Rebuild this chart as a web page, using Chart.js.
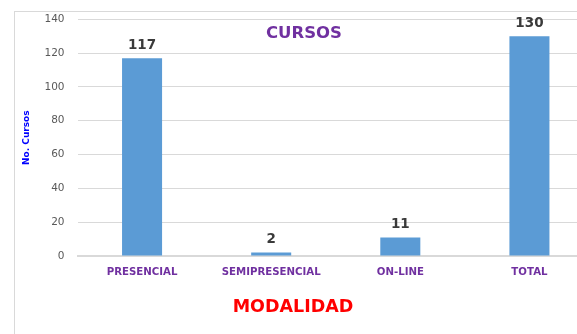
<!DOCTYPE html>
<html>
<head>
<meta charset="utf-8">
<script src="https://cdn.jsdelivr.net/npm/chart.js@4/dist/chart.umd.min.js"></script>
<style>
  html, body { margin: 0; padding: 0; background: #fff; overflow: hidden; }
  #wrap { position: relative; width: 577px; height: 334px; overflow: hidden; }
  #frame { position: absolute; left: 14px; top: 11px; width: 600px; height: 400px;
           border-left: 1px solid #d9d9d9; border-top: 1px solid #d9d9d9; }
  #box { position: absolute; left: 0; top: 0; width: 610px; height: 334px; }
</style>
</head>
<body>
<div id="wrap">
  <div id="frame"></div>
  <div id="box"><canvas id="cursosChart"></canvas></div>
</div>
<script>
// cursos por modalidad
const modalidades = ["PRESENCIAL", "SEMIPRESENCIAL", "ON-LINE", "TOTAL"];
const cursos = [117, 2, 11, 130];
const yTicks = [0, 20, 40, 60, 80, 100, 120, 140];

const FONT = "'DejaVu Sans', sans-serif";

// textos del grafico: titulo, ejes y valores encima de cada barra
const textos = {
  id: "textos",
  afterDatasetsDraw(chart) {
    const ctx = chart.ctx;
    const area = chart.chartArea;
    const meta = chart.getDatasetMeta(0);
    ctx.save();
    ctx.textAlign = "center";

    ctx.fillStyle = "#3a3a3a";
    ctx.font = "bold 13.5px " + FONT;
    ctx.textBaseline = "bottom";
    meta.data.forEach((bar, i) => {
      ctx.fillText(String(cursos[i]), bar.x, bar.y - 6);
    });

    ctx.textBaseline = "middle";
    ctx.fillStyle = "#7030A0";
    ctx.font = "bold 16.5px " + FONT;
    ctx.fillText("CURSOS", 304, area.top + 14);

    ctx.fillStyle = "#FF0000";
    ctx.font = "bold 17.5px " + FONT;
    ctx.fillText("MODALIDAD", 293, area.bottom + 51);

    ctx.translate(27, (area.top + area.bottom) / 2);
    ctx.rotate(-Math.PI / 2);
    ctx.fillStyle = "#0000FF";
    ctx.font = "bold 9px " + FONT;
    ctx.fillText("No. Cursos", 0, 0);
    ctx.restore();
  },
};

new Chart(document.getElementById("cursosChart"), {
  type: "bar",
  data: {
    labels: modalidades,
    datasets: [
      {
        data: cursos,
        backgroundColor: "#5B9BD5",
        categoryPercentage: 1,
        barPercentage: 0.31,
      },
    ],
  },
  options: {
    responsive: true,
    maintainAspectRatio: false,
    animation: false,
    layout: { padding: { top: 19, right: 16, left: 0, bottom: 0 } },
    plugins: {
      legend: { display: false },
      tooltip: { enabled: false },
    },
    scales: {
      x: {
        grid: { display: false },
        border: { color: "#d9d9d9", width: 2 },
        ticks: {
          color: "#7030A0",
          padding: 2,
          font: { family: FONT, size: 10.2, weight: "bold" },
        },
        afterFit(scale) {
          scale.height = 78;
        },
      },
      y: {
        min: 0,
        max: 140,
        afterBuildTicks(scale) {
          scale.ticks = yTicks.map((v) => ({ value: v }));
        },
        grid: { color: "#d9d9d9", drawTicks: false },
        border: { display: false },
        ticks: {
          color: "#595959",
          padding: 13,
          font: { family: FONT, size: 10.5 },
        },
        afterFit(scale) {
          scale.width = 77.5;
        },
      },
    },
  },
  plugins: [textos],
});
</script>
</body>
</html>
